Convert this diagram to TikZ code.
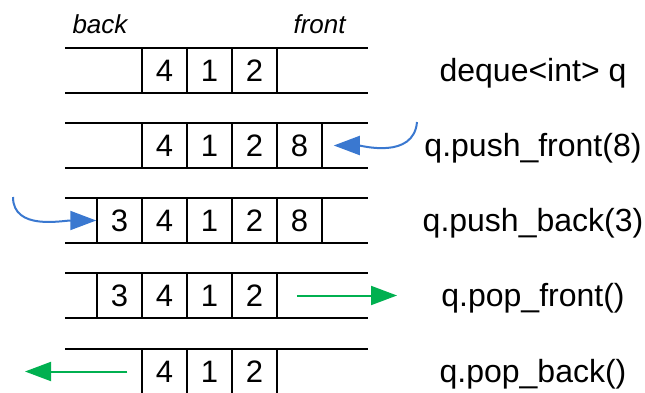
\documentclass[tikz,border=0pt]{standalone}
\usepackage{fontspec}
\setmainfont{Liberation Sans}
\usepackage{tikz}
\usetikzlibrary{arrows.meta}

\definecolor{pushblue}{RGB}{58,120,208}
\definecolor{popgreen}{RGB}{0,176,80}

\begin{document}
\begin{tikzpicture}[x=1pt,y=1pt,>={Triangle[length=26pt,width=19pt]},node distance=45pt,
                    cell/.style={draw,line width=1.5pt,minimum width=45pt,minimum height=45pt,
                                 inner sep=0pt,font=\fontsize{31}{31}\selectfont},
                    call/.style={anchor=base,font=\fontsize{32}{32}\selectfont},
                    side/.style={anchor=base west,font=\fontsize{26}{26}\selectfont\itshape}]
  \useasboundingbox (0,0) rectangle (645,392);

  % rails
  \draw[line width=1.5pt]
    (65,344) -- (368,344)  (65,299) -- (368,299)
    (65,269) -- (368,269)  (65,224) -- (368,224)
    (65,194) -- (368,194)  (65,149) -- (368,149)
    (65,119) -- (368,119)  (65,74)  -- (368,74)
    (65,43)  -- (368,43)   (65,-2)  -- (368,-2);

  \node[side] (bk) at (69,359) {back};
  \node[side] (ft) at (290,359) {front};

  % deque<int> q
  \node[cell] (a1) at (164.5,321.5) {4};
  \node[cell] (a2) [right of=a1] {1};
  \node[cell] (a3) [right of=a2] {2};

  % push_front
  \node[cell] (b1) at (164.5,246.5) {4};
  \node[cell] (b2) [right of=b1] {1};
  \node[cell] (b3) [right of=b2] {2};
  \node[cell] (b4) [right of=b3] {8};

  % push_back
  \node[cell] (c1) at (119.5,171.5) {3};
  \node[cell] (c2) [right of=c1] {4};
  \node[cell] (c3) [right of=c2] {1};
  \node[cell] (c4) [right of=c3] {2};
  \node[cell] (c5) [right of=c4] {8};

  % pop_front
  \node[cell] (d1) at (119.5,96.5) {3};
  \node[cell] (d2) [right of=d1] {4};
  \node[cell] (d3) [right of=d2] {1};
  \node[cell] (d4) [right of=d3] {2};

  % pop_back
  \node[cell] (e1) at (164.5,20.5) {4};
  \node[cell] (e2) [right of=e1] {1};
  \node[cell] (e3) [right of=e2] {2};

  \node[call] (l1) at (533,311) {deque<int> q};
  \node[call] (l2) at (533,236) {q.push\_front(8)};
  \node[call] (l3) at (533,161) {q.push\_back(3)};
  \node[call] (l4) at (533,86)  {q.pop\_front()};
  \node[call] (l5) at (533,10)  {q.pop\_back()};

  \coordinate (pfin)  at (417,270);
  \coordinate (pbin)  at (13,195);
  \coordinate (pfout) at (397,96.5);
  \coordinate (pbout) at (25,20.5);

  \path[->,line width=2pt]
    (pfin) edge [pushblue,out=-95,in=0,shorten >=11pt] (b4.east)
    (pbin) edge [pushblue,out=-90,in=180] (c1.west)
    (d4.east) edge [popgreen,shorten <=19pt] (pfout)
    (e1.west) edge [popgreen,shorten <=14pt] (pbout);
\end{tikzpicture}
\end{document}
